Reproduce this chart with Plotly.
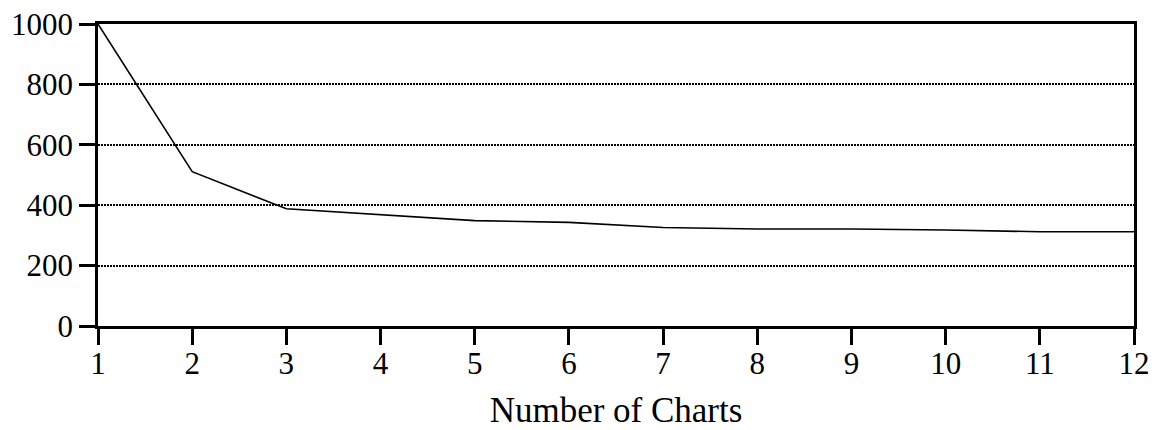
import plotly.graph_objects as go

# Number of charts vs. measured value
charts = [1, 2, 3, 4, 5, 6, 7, 8, 9, 10, 11, 12]
values = [1000, 511, 388, 368, 349, 343, 326, 321, 321, 318, 312, 312]

x_ticks = list(range(1, 13))
y_ticks = [0, 200, 400, 600, 800, 1000]

FONT = "Liberation Serif"

fig = go.Figure()
fig.add_trace(go.Scatter(
    x=charts, y=values, mode="lines",
    line=dict(color="black", width=1.6),
    showlegend=False, hoverinfo="skip",
))

fig.update_layout(
    width=1155, height=430,
    margin=dict(l=98, r=21, t=24, b=104),
    paper_bgcolor="white", plot_bgcolor="white",
    font=dict(family=FONT, size=31, color="black"),
)

fig.update_xaxes(
    range=[1, 12], tickvals=x_ticks, ticktext=[str(v) for v in x_ticks],
    showgrid=False, zeroline=False, automargin=False,
    showline=True, linecolor="black", linewidth=2.5, mirror=True,
    ticks="outside", ticklen=16, tickwidth=2.5, tickcolor="black",
    ticklabelstandoff=-8,
    title=dict(text="Number of Charts", font=dict(family=FONT, size=35), standoff=39),
)
fig.update_yaxes(
    range=[0, 1000], tickvals=y_ticks, ticktext=[str(v) for v in y_ticks],
    showgrid=True, gridcolor="black", gridwidth=1.5, griddash="2px,1px",
    zeroline=False, automargin=False,
    showline=True, linecolor="black", linewidth=2.5, mirror=True,
    ticks="outside", ticklen=16, tickwidth=2.5, tickcolor="black",
)

fig.write_html("out.html")
